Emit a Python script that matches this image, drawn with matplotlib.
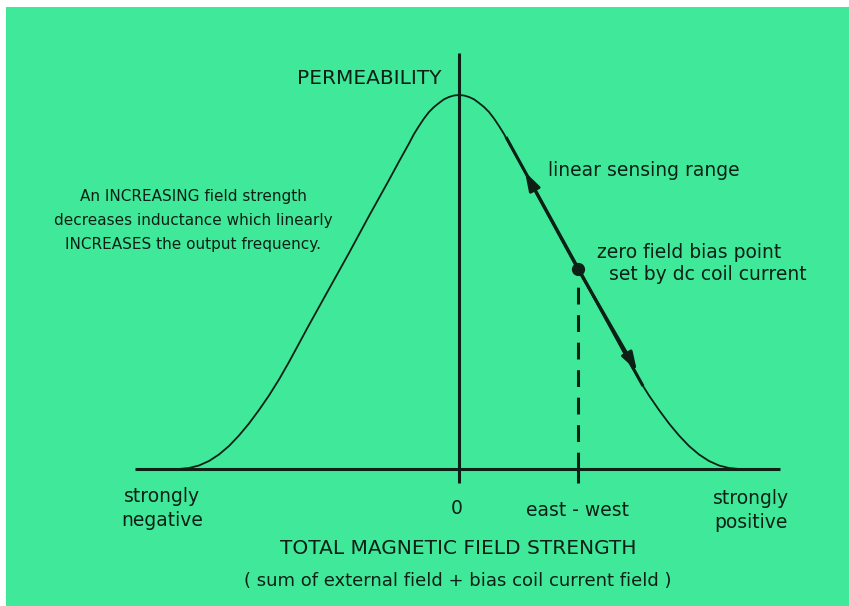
import matplotlib.pyplot as plt
from matplotlib.patches import Rectangle

# ── Permeability curve (field strength vs. permeability, arbitrary units) ────
field_strength = [-2.8, -2.7, -2.6, -2.5, -2.4, -2.3, -2.2, -2.1, -2.0, -1.9,
                  -1.8, -1.7, -1.6, -1.5, -1.4, -1.3, -1.2, -1.1, -1.0, -0.9,
                  -0.8, -0.7, -0.6, -0.5, -0.45, -0.4, -0.35, -0.3, -0.25,
                  -0.2, -0.15, -0.1, -0.05, 0.0,
                  0.05, 0.1, 0.15, 0.2, 0.25, 0.3, 0.35, 0.4, 0.45, 0.5,
                  0.6, 0.7, 0.8, 0.9, 1.0,
                  1.1, 1.2, 1.3, 1.4, 1.5, 1.6, 1.7, 1.8, 1.9, 2.0,
                  2.1, 2.2, 2.3, 2.4, 2.5, 2.6, 2.7, 2.8]
permeability = [0.0, 0.01, 0.035, 0.08, 0.145, 0.23, 0.335, 0.455, 0.59, 0.735,
                0.895, 1.07, 1.255, 1.44, 1.62, 1.80, 1.98, 2.16, 2.345, 2.53,
                2.71, 2.89, 3.075, 3.255, 3.35, 3.43, 3.505, 3.57, 3.62,
                3.66, 3.697, 3.72, 3.735, 3.74,
                3.735, 3.72, 3.697, 3.66, 3.62, 3.57, 3.505, 3.43, 3.35, 3.255,
                3.075, 2.89, 2.71, 2.53, 2.345,
                2.16, 1.98, 1.80, 1.62, 1.44, 1.255, 1.07, 0.895, 0.735, 0.59,
                0.455, 0.335, 0.23, 0.145, 0.08, 0.035, 0.01, 0.0]

# axis extents
axis_x = [-3.24, 3.21]
axis_y_top = 4.16
tick_depth = -0.14

# bias point and linear sensing range along the curve
bias_x, bias_y = 1.19, 2.00
range_ends_x = [0.47, 1.84]
range_ends_y = [3.32, 0.83]
arrow_tips = [(0.66, 2.97), (1.78, 0.98)]

ink = '#0c2016'
bg_green = '#40e89a'

fig = plt.figure(figsize=(8.49, 6.06), dpi=100)
fig.patch.set_facecolor('white')

ax = fig.add_axes([0, 0, 1, 1])
ax.set_xlim(-4.59, 3.90)
ax.set_ylim(-1.37, 4.69)
ax.axis('off')

# green card behind the drawing
ax.add_patch(Rectangle((6 / 849, 0), 1, 1 - 7 / 606,
                       transform=fig.transFigure, facecolor=bg_green,
                       edgecolor='none', zorder=-10))

# axes
ax.plot(axis_x, [0, 0], color=ink, lw=2.2, solid_capstyle='butt')
ax.plot([0, 0], [tick_depth, axis_y_top], color=ink, lw=2.2,
        solid_capstyle='butt')

# permeability curve
ax.plot(field_strength, permeability, color=ink, lw=1.3)

# linear sensing range with arrowheads
ax.plot(range_ends_x, range_ends_y, color=ink, lw=2.2,
        solid_capstyle='butt')
for tip in arrow_tips:
    ax.annotate('', xy=tip, xytext=(bias_x, bias_y),
                arrowprops=dict(arrowstyle='-|>,head_length=1.1,head_width=0.35',
                                color=ink, lw=2.2, shrinkA=0, shrinkB=0))
ax.plot(bias_x, bias_y, 'o', color=ink, markersize=8.5, zorder=5)

# east-west bias marker
ax.plot([bias_x, bias_x], [0, bias_y - 0.16], color=ink, lw=2.2,
        dashes=(5.5, 3.5))
ax.plot([bias_x, bias_x], [tick_depth, 0], color=ink, lw=2.2,
        solid_capstyle='butt')

font = dict(family='DejaVu Sans', color=ink)

ax.text(-0.90, 3.90, 'PERMEABILITY', fontsize=14.5, ha='center',
        va='center', **font)
ax.text(0.89, 2.98, 'linear sensing range', fontsize=13.5, ha='left',
        va='center', **font)
ax.text(1.38, 2.17, 'zero field bias point', fontsize=13.5, ha='left',
        va='center', **font)
ax.text(1.50, 1.95, 'set by dc coil current', fontsize=13.5, ha='left',
        va='center', **font)

note = ['An INCREASING field strength',
        'decreases inductance which linearly',
        'INCREASES the output frequency.']
for i, line in enumerate(note):
    ax.text(-2.66, 2.72 - 0.235 * i, line, fontsize=11, ha='center',
            va='center', **font)

ax.text(-2.97, -0.28, 'strongly', fontsize=13.5, ha='center', va='center', **font)
ax.text(-2.97, -0.52, 'negative', fontsize=13.5, ha='center', va='center', **font)
ax.text(2.92, -0.30, 'strongly', fontsize=13.5, ha='center', va='center', **font)
ax.text(2.92, -0.54, 'positive', fontsize=13.5, ha='center', va='center', **font)
ax.text(-0.02, -0.40, '0', fontsize=13.5, ha='center', va='center', **font)
ax.text(bias_x, -0.41, 'east - west', fontsize=13.5, ha='center', va='center', **font)

ax.text(-0.01, -0.80, 'TOTAL MAGNETIC FIELD STRENGTH', fontsize=14.5,
        ha='center', va='center', **font)
ax.text(-0.01, -1.12, '( sum of external field + bias coil current field )',
        fontsize=13, ha='center', va='center', **font)

fig.savefig('out.png', dpi=100, facecolor=fig.get_facecolor())
